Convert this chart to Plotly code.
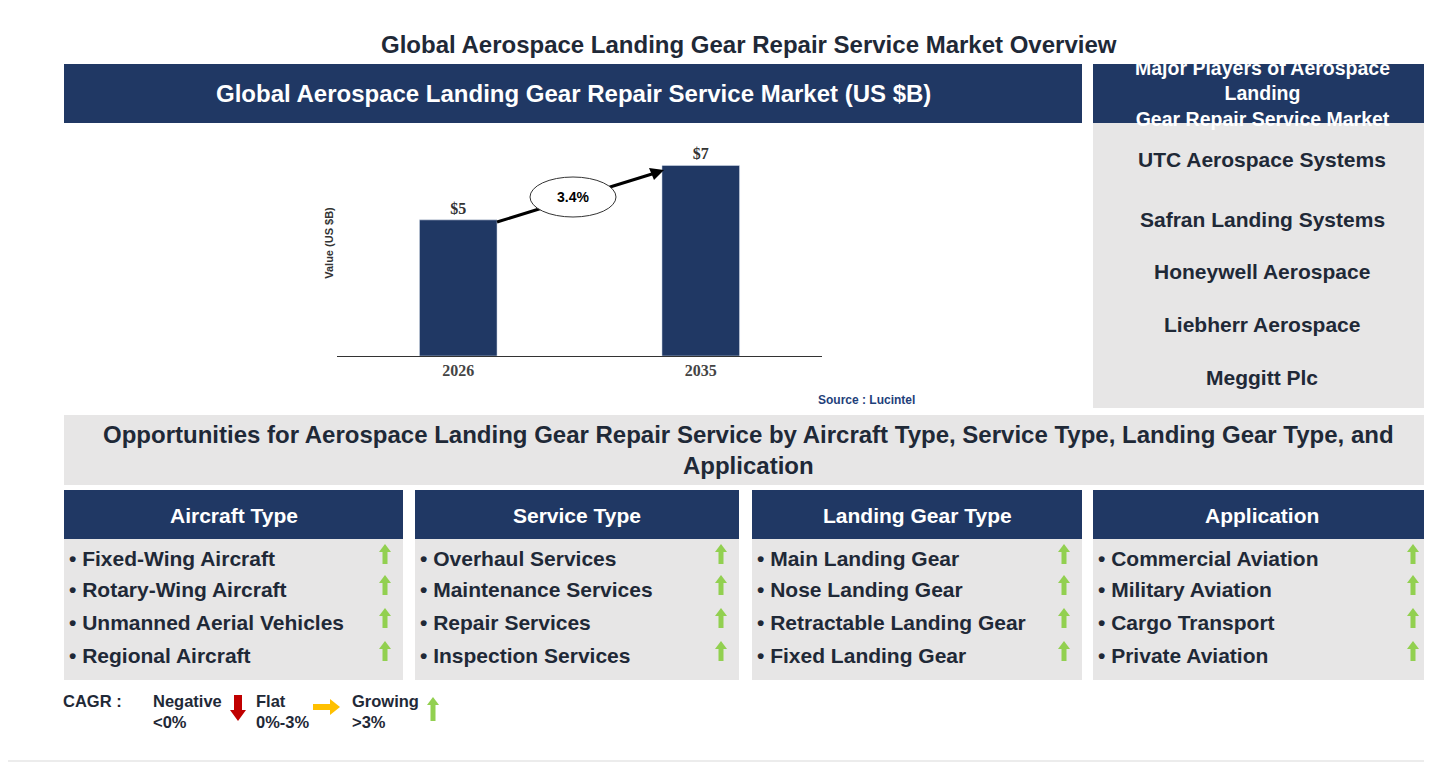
import plotly.graph_objects as go

W, H = 1432, 762
years = ["2026", "2035"]
values = [5, 7]
value_labels = ["<b>$5</b>", "<b>$7</b>"]
cagr_label = "3.4%"
players = ["UTC Aerospace Systems", "Safran Landing Systems", "Honeywell Aerospace",
           "Liebherr Aerospace", "Meggitt Plc"]
segment_titles = ["Aircraft Type", "Service Type", "Landing Gear Type", "Application"]
segment_items = [
    ["Fixed-Wing Aircraft", "Rotary-Wing Aircraft", "Unmanned Aerial Vehicles", "Regional Aircraft"],
    ["Overhaul Services", "Maintenance Services", "Repair Services", "Inspection Services"],
    ["Main Landing Gear", "Nose Landing Gear", "Retractable Landing Gear", "Fixed Landing Gear"],
    ["Commercial Aviation", "Military Aviation", "Cargo Transport", "Private Aviation"],
]

NAVY = "#203864"
GRAY = "#E7E6E6"
GREEN = "#92D050"
TXT = "#1F2937"
FONT = "Liberation Sans, Arial, sans-serif"
OFF = 8  # page body margin

def px(x): return (x - OFF) / W
def py(y): return 1 - (y - OFF) / H

shapes, ann = [], []

def rect(x0, y0, x1, y1, color):
    shapes.append(dict(type="rect", xref="paper", yref="paper", x0=px(x0), x1=px(x1),
                       y0=py(y1), y1=py(y0), fillcolor=color, line=dict(width=0), layer="below"))

def text(x, y, s, size, color=TXT, anchor="center", bold=True, family=FONT, align="center"):
    ann.append(dict(xref="paper", yref="paper", x=px(x), y=py(y), text=f"<b>{s}</b>" if bold else s,
                    showarrow=False, xanchor=anchor, yanchor="middle", align=align,
                    font=dict(size=size, color=color, family=family)))

def poly(pts, color):
    d = "M " + " L ".join(f"{px(a)},{py(b)}" for a, b in pts) + " Z"
    shapes.append(dict(type="path", xref="paper", yref="paper", path=d, fillcolor=color,
                       line=dict(width=0)))

def up_arrow(cx, ytop, h=20, color=GREEN):
    poly([(cx, ytop), (cx + 6, ytop + 8), (cx + 2.5, ytop + 8), (cx + 2.5, ytop + h),
          (cx - 2.5, ytop + h), (cx - 2.5, ytop + 8), (cx - 6, ytop + 8)], color)

# page border
shapes.append(dict(type="rect", xref="paper", yref="paper", x0=px(0), x1=px(1431), y0=py(761), y1=py(0),
                   line=dict(color="#D9D9D9", width=1), fillcolor="rgba(0,0,0,0)", layer="below"))

text(749, 44, "Global Aerospace Landing Gear Repair Service Market Overview", 24)
rect(64, 64, 1082, 123, NAVY)
text(573, 94, "Global Aerospace Landing Gear Repair Service Market (US $B)", 24, "white")
rect(1093, 64, 1431, 123, NAVY)
text(1262, 94, "Major Players of Aerospace<br>Landing<br>Gear Repair Service Market", 19.5, "white")
rect(1093, 123, 1431, 408, GRAY)
for yy, p in zip([159, 219, 271, 324, 377], players):
    text(1262, yy, p, 21)

text(866, 400, "Source : Lucintel", 12, "#1F3F7A")

rect(64, 415, 1431, 485, GRAY)
text(748, 450, "Opportunities for Aerospace Landing Gear Repair Service by Aircraft Type, Service Type, Landing Gear Type, and<br>Application", 24)

cols = [(64, 403), (415, 739), (752, 1082), (1093, 1431)]
item_y = [558, 589, 622, 655]
for (x0, x1), t, items in zip(cols, segment_titles, segment_items):
    rect(x0, 490, x1, 539, NAVY)
    text((x0 + x1) / 2, 515, t, 21, "white")
    rect(x0, 539, x1, 680, GRAY)
    for yy, it in zip(item_y, items):
        text(x0 + 3, yy, "• " + it, 21, anchor="left")
        up_arrow(x1 - 18, yy - 14)

# legend
text(61, 701, "CAGR :", 16.5, anchor="left")
text(151, 711, "Negative<br><0%", 16.5, anchor="left", align="left")
poly([(234, 695), (242, 695), (242, 710), (246, 710), (238, 721), (230, 710), (234, 710)], "#C00000")
text(254, 711, "Flat<br>0%-3%", 16.5, anchor="left", align="left")
poly([(313, 704), (330, 704), (330, 699), (340, 707), (330, 715), (330, 710), (313, 710)], "#FFC000")
text(350, 711, "Growing<br>>3%", 16.5, anchor="left", align="left")
up_arrow(433, 697, 24)

fig = go.Figure(go.Bar(x=years, y=values, marker_color=NAVY, width=0.32,
                       text=value_labels, textposition="outside", cliponaxis=False,
                       textfont=dict(family="Liberation Serif, serif", size=16, color="#333")))

# CAGR arrow (line + head) then ellipse on top
shapes.append(dict(type="line", xref="paper", yref="paper", x0=px(497), y0=py(222), x1=px(652), y1=py(174),
                   line=dict(color="black", width=3)))
poly([(664, 170), (649, 168), (654, 180)], "black")
shapes.append(dict(type="circle", xref="paper", yref="paper", x0=px(530), x1=px(616),
                   y0=py(217), y1=py(177), fillcolor="white", line=dict(color="#333", width=1)))
text(573, 197, cagr_label, 14, "black")

fig.update_layout(
    width=W, height=H, margin=dict(l=0, r=0, t=0, b=0), plot_bgcolor="rgba(0,0,0,0)", paper_bgcolor="white",
    showlegend=False, shapes=shapes, annotations=ann,
    xaxis=dict(domain=[px(337), px(822)], range=[-0.5, 1.5], showgrid=False, ticks="",
               showline=True, linecolor="#333", linewidth=1, tickprefix="<b>", ticksuffix="</b>",
               tickfont=dict(family="Liberation Serif, serif", size=16, color="#444")),
    yaxis=dict(domain=[py(356), py(130)], range=[0, 8.3], showgrid=False, showticklabels=False,
               zeroline=False, title=dict(text="<b>Value (US $B)</b>", standoff=0,
                                          font=dict(size=11, color="#333", family=FONT))),
)
fig.write_html("out.html")
